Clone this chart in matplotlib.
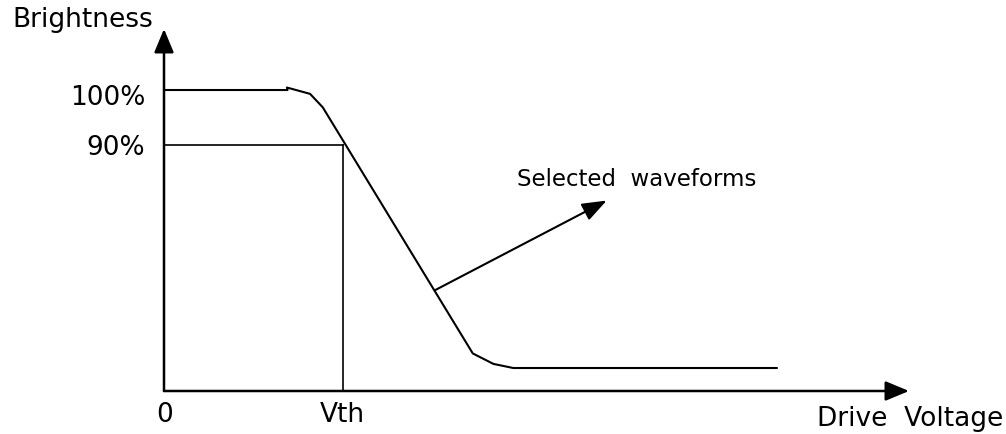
import numpy as np
import matplotlib
matplotlib.use('Agg')
import matplotlib.pyplot as plt

# brightness vs drive voltage curve (voltage in units of Vth, brightness in %)
curve_v = [0.0, 0.69, 0.687, 0.816, 0.887, 1.725, 1.84, 1.951, 3.423]
curve_b = [100.0, 100.0, 100.45, 99.3, 96.85, 52.1, 50.2, 49.45, 49.45]

vth = 1.0
level_labels = ['100%', '90%']
level_values = [100.0, 90.0]
b_origin = 45.27

# pointer to the selected part of the curve
pointer_from = (1.514, 63.6)
pointer_to = (2.473, 79.9)


def axis_arrow(ax, start, end, lw=1.8):
    ax.annotate('', xy=end, xytext=start,
                arrowprops=dict(arrowstyle='-|>,head_length=0.72,head_width=0.3',
                                mutation_scale=20, lw=lw, color='black',
                                shrinkA=0, shrinkB=0))


plt.rcParams['font.family'] = ['DejaVu Sans']
fig = plt.figure(figsize=(10.06, 4.35), dpi=100)
ax = fig.add_axes([0, 0, 1, 1])
ax.set_xlim(-0.9162, 4.7039)
ax.set_ylim(37.45, 116.55)
ax.axis('off')

# axes with arrow heads
axis_arrow(ax, (0, b_origin), (0, 111.1))
axis_arrow(ax, (0, b_origin), (4.162, b_origin))

# 90% guide lines
ax.plot([0, vth], [level_values[1], level_values[1]], color='black', lw=1.2)
ax.plot([vth, vth], [level_values[1], b_origin], color='black', lw=1.2)

# main curve
ax.plot(curve_v, curve_b, color='black', lw=1.5, solid_joinstyle='round')

# pointer
ax.annotate('', xy=pointer_to, xytext=pointer_from,
            arrowprops=dict(arrowstyle='-|>,head_length=0.75,head_width=0.28',
                            mutation_scale=20, lw=1.5, color='black',
                            shrinkA=0, shrinkB=0))
ax.text(1.970, 82.7, 'Selected  waveforms', fontsize=16.5, va='baseline', ha='left')

# labels
ax.text(-0.845, 111.6, 'Brightness', fontsize=19, va='baseline', ha='left')
for lab, val, base in zip(level_labels, level_values, [97.45, 88.36]):
    ax.text(-0.106, base, lab, fontsize=19, va='baseline', ha='right')
ax.text(0.005, 39.9, '0', fontsize=19, va='baseline', ha='center')
ax.text(vth - 0.006, 39.9, 'Vth', fontsize=19, va='baseline', ha='center')
ax.text(4.687, 39.16, 'Drive  Voltage', fontsize=19, va='baseline', ha='right')

fig.savefig('out.png', dpi=100)
